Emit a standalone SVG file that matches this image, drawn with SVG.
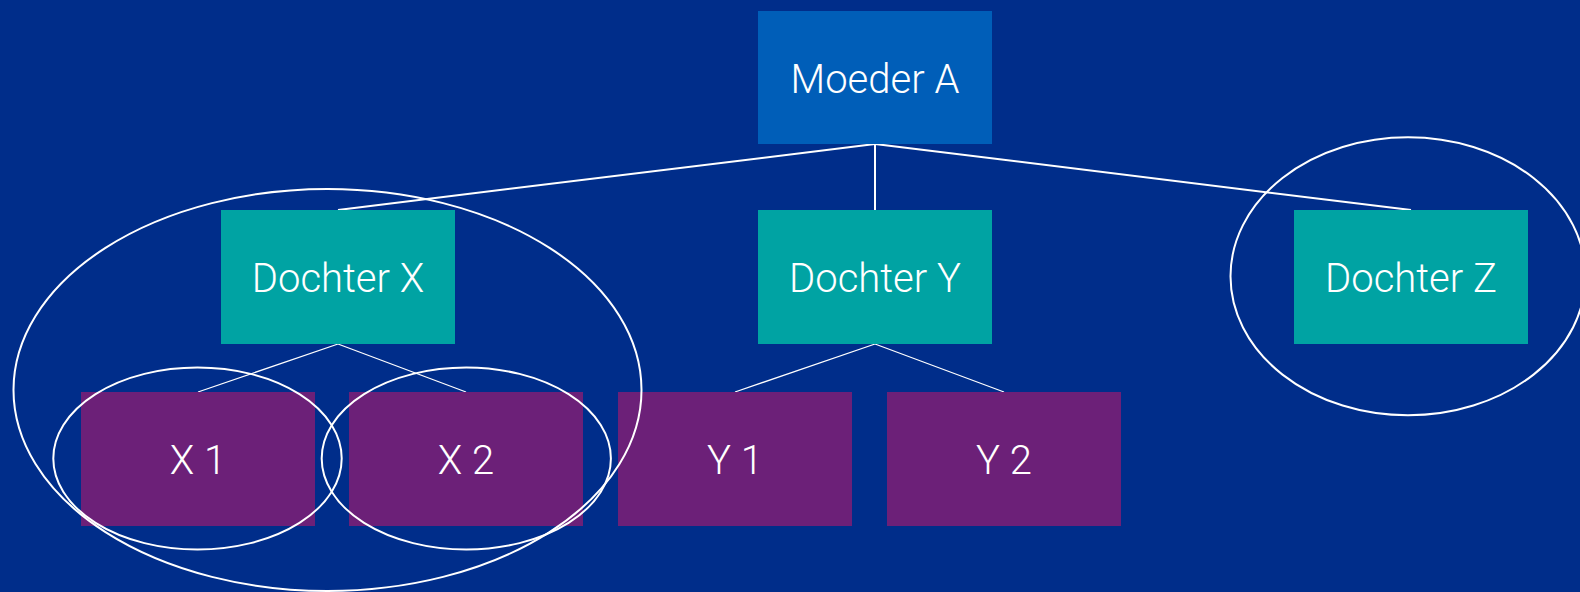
<svg xmlns="http://www.w3.org/2000/svg" width="1580" height="592" viewBox="0 0 1580 592">
<style>
.lbl{font-family:Roboto,"Liberation Sans",sans-serif;font-weight:300;font-size:40px;fill:#ffffff;text-anchor:middle}
.mother{fill:#005EB8}
.daughter{fill:#00A3A3}
.grand{fill:#6C2078}
.ring{fill:none;stroke:#ffffff;stroke-width:2}
.c1{stroke:#ffffff;stroke-width:2;fill:none}
.c2{stroke:#ffffff;stroke-width:1.3;fill:none}
</style>
<rect x="0" y="0" width="1580" height="592" fill="#002D8A"/>
<g id="connectors">
<line class="c1" x1="875" y1="144" x2="338" y2="210"/>
<line class="c1" x1="875" y1="144" x2="875" y2="210"/>
<line class="c1" x1="875" y1="144" x2="1411" y2="210"/>
<line class="c2" x1="338" y1="344" x2="198" y2="392"/>
<line class="c2" x1="338" y1="344" x2="466" y2="392"/>
<line class="c2" x1="875" y1="344" x2="735" y2="392"/>
<line class="c2" x1="875" y1="344" x2="1004" y2="392"/>
</g>
<g id="moeder-a"><rect class="mother" x="758" y="11" width="234" height="133"/><text class="lbl" x="875" y="93">Moeder A</text></g>
<g id="dochter-x"><rect class="daughter" x="221" y="210" width="234" height="134"/><text class="lbl" x="338" y="292">Dochter X</text></g>
<g id="dochter-y"><rect class="daughter" x="758" y="210" width="234" height="134"/><text class="lbl" x="875" y="292">Dochter Y</text></g>
<g id="dochter-z"><rect class="daughter" x="1294" y="210" width="234" height="134"/><text class="lbl" x="1411" y="292">Dochter Z</text></g>
<g id="x1"><rect class="grand" x="81" y="392" width="234" height="134"/><text class="lbl" x="198" y="474">X 1</text></g>
<g id="x2"><rect class="grand" x="349" y="392" width="234" height="134"/><text class="lbl" x="466" y="474">X 2</text></g>
<g id="y1"><rect class="grand" x="618" y="392" width="234" height="134"/><text class="lbl" x="735" y="474">Y 1</text></g>
<g id="y2"><rect class="grand" x="887" y="392" width="234" height="134"/><text class="lbl" x="1004" y="474">Y 2</text></g>
<g id="rings">
<ellipse class="ring" cx="327.5" cy="390" rx="314" ry="201"/>
<ellipse class="ring" cx="197.5" cy="458.5" rx="144.2" ry="91"/>
<ellipse class="ring" cx="466.3" cy="458.5" rx="144.6" ry="91"/>
<ellipse class="ring" cx="1408" cy="276.3" rx="177.5" ry="139"/>
</g>
</svg>
